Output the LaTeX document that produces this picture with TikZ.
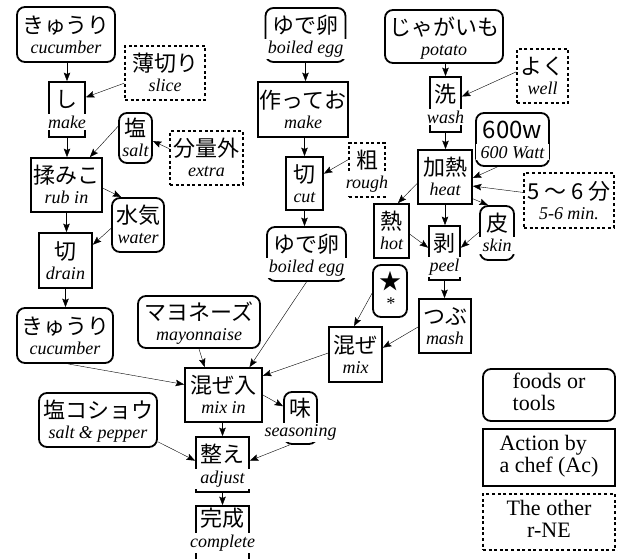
\documentclass[tikz,border=0pt]{standalone}
\usepackage{fontspec}
\setmainfont{Liberation Serif}
\newfontfamily\jpfont{Noto Sans CJK JP}
\usepackage{tikz}
\usetikzlibrary{arrows.meta}
\pgfdeclarelayer{edgelayer}
\pgfdeclarelayer{nodelayer}
\pgfsetlayers{edgelayer,nodelayer,main}
\newcommand{\jsz}{\jpfont\fontsize{22}{20}\selectfont}
\newcommand{\esz}{\itshape\fontsize{18}{20}\selectfont}
% Japanese word over its English gloss
\newcommand{\je}[2]{\fontsize{18}{20}\selectfont\begin{tabular}[b]{@{}c@{}}{\jsz #1}\\{\esz #2}\end{tabular}}
% same, but the gloss sits on a white patch over the frame
\newcommand{\jo}[2]{\fontsize{18}{20}\selectfont\begin{tabular}[b]{@{}c@{}}{\jsz #1}\\{\esz\makebox[0pt]{\setlength{\fboxsep}{2pt}\colorbox{white}{\hspace{3pt}#2\hspace{3pt}}}}\end{tabular}}
\tikzstyle{box}=[inner sep=0pt, line width=1.8pt, text height=37pt, text depth=0pt, fill=white]
\tikzstyle{food}=[box, draw, rounded corners=8pt]
\tikzstyle{act}=[box, draw, rectangle]
\tikzstyle{other}=[box, draw, line width=1.5pt, dash pattern=on 3pt off 2.6pt]
\tikzstyle{key}=[inner sep=0pt, draw, line width=1.8pt, fill=white, font=\fontsize{22}{22}\selectfont]
\tikzset{sz/.style 2 args={minimum width=#1pt, minimum height=#2pt}}

\begin{document}
\begin{tikzpicture}[x=1pt, y=-1pt, line width=1.4pt, >={Stealth[length=8.5pt,width=6.5pt,inset=1.5pt]}]
    \useasboundingbox (0,0) rectangle (627,558);
    \begin{pgfonlayer}{nodelayer}
	% cucumber column
	\node [food, sz={98}{55}] (cu1) at (66,34.5) {\je{きゅうり}{cucumber}};
	\node [other, sz={80}{54}] (slice) at (165,73) {\je{薄切り}{slice}};
	\node [act, sz={36}{55}] (make1) at (67,109.5) {\jo{し}{make}};
	\node [food, sz={33}{50}] (salt) at (135.5,138) {\je{塩}{salt}};
	\node [other, sz={73}{54}] (extra) at (206.5,158) {\je{分量外}{extra}};
	\node [act, sz={71}{54}] (rub) at (66.5,185) {\je{揉みこ}{rub in}};
	\node [food, sz={52}{54}] (water) at (138,225) {\je{水気}{water}};
	\node [act, sz={53}{55}] (drain) at (65.5,260.5) {\je{切}{drain}};
	\node [food, sz={96}{55}] (cu2) at (65,335.5) {\je{きゅうり}{cucumber}};
	% egg column
	\node [food, sz={80}{54}] (egg1) at (305.5,35) {\jo{ゆで卵}{boiled egg}};
	\node [act, sz={90}{55}] (make2) at (303,109.5) {\je{作ってお}{make}};
	\node [act, sz={37}{53}] (cut) at (304.5,183.5) {\je{切}{cut}};
	\node [other, sz={36}{54}] (rough) at (367,170) {\jo{粗}{rough}};
	\node [food, sz={79}{54}] (egg2) at (306.5,254) {\jo{ゆで卵}{boiled egg}};
	% potato column
	\node [food, sz={118}{53}] (potato) at (444,36.5) {\je{じゃがいも}{potato}};
	\node [other, sz={51}{54}] (well) at (542.5,76) {\je{よく}{well}};
	\node [act, sz={31}{55}] (wash) at (445.5,104.5) {\jo{洗}{wash}};
	\node [food, sz={73}{53}] (watt) at (512.5,139.5) {\jo{\fontsize{24}{20}\selectfont 600w}{600 Watt}};
	\node [act, sz={54}{54}] (heat) at (445,177) {\je{加熱}{heat}};
	\node [other, sz={90}{55}] (min) at (569,200.5) {\je{5 ～ 6 分}{5-6 min.}};
	\node [act, sz={35}{54}] (hot) at (391.5,231) {\je{熱}{hot}};
	\node [food, sz={34}{54}] (skin) at (497,233) {\jo{皮}{skin}};
	\node [act, sz={31}{54}] (peel) at (444.5,253) {\jo{剥}{peel}};
	\node [act, sz={52}{54}] (mash) at (445,326) {\je{つぶ}{mash}};
	\node [food, sz={34}{52}] (star) at (390,291) {\je{★}{*}};
	\node [act, sz={53}{55}] (mix) at (355.5,354.5) {\je{混ぜ}{mix}};
	% mixing and finishing
	\node [food, sz={122}{52}] (mayo) at (199,322) {\je{マヨネーズ}{mayonnaise}};
	\node [act, sz={77}{54}] (mixin) at (223.5,395) {\je{混ぜ入}{mix in}};
	\node [food, sz={118}{54}] (pepper) at (98,420) {\je{塩コショウ}{salt \& pepper}};
	\node [food, sz={33}{52}] (season) at (300.5,418) {\jo{味}{seasoning}};
	\node [act, sz={53}{55}] (adjust) at (222.5,464.5) {\jo{整え}{adjust}};
	\node [act, sz={53}{70}, text depth=25pt] (complete) at (222.5,541) {\jo{完成}{complete}};
	% legend
	\node [key, rounded corners=8pt, sz={132}{52}] (key1) at (549,395) {\begin{tabular}{@{}l@{}}foods or\\tools\end{tabular}};
	\node [key, sz={132}{57}] (key2) at (549,457.5) {\begin{tabular}{@{}l@{}}Action by\\a chef (Ac)\end{tabular}};
	\node [key, line width=1.5pt, dash pattern=on 3pt off 2.6pt, sz={132}{56}] (key3) at (549,522) {\begin{tabular}{@{}c@{}}The other\\r-NE\end{tabular}\hspace{16pt}};
    \end{pgfonlayer}
    \begin{pgfonlayer}{edgelayer}
	\draw [->] (make1.north |- cu1.south) to (make1.north);
	\draw [->] (slice.194) to (make1.33);
	\draw [->] (make1.south) to (make1.south |- rub.north);
	\draw [->] (salt.146) to (rub.50);
	\draw [->] (extra.166) to (salt.350);
	\draw [->] (rub.355) to (water.121);
	\draw [->] (rub.south) to (rub.south |- drain.north);
	\draw [->] (water.187) to (drain.30);
	\draw [->] (drain.south) to (drain.south |- cu2.north);
	\draw [->] (cu2.276) to (mixin.165);
	\draw [->] (egg1.south) to (egg1.south |- make2.north);
	\draw [->] (cut.north |- make2.south) to (cut.north);
	\draw [->] (rough.151) to (cut.27);
	\draw [->] (cut.south) to (cut.south |- egg2.north);
	\draw [->] (egg2.south) to (mixin.47);
	\draw [->] (mayo.south) to (mixin.124);
	\draw [->] (wash.north |- potato.south) to (wash.north);
	\draw [->] (well.171) to (wash.26);
	\draw [->] (wash.south) to (wash.south |- heat.north);
	\draw [->] (watt.241) to (heat.358);
	\draw [->] (min.170) to (heat.342);
	\draw [->] (heat.193) to (hot.77);
	\draw [->] (heat.322) to (skin.108);
	\draw [->] (heat.south) to (heat.south |- peel.north);
	\draw [->] (hot.350) to (peel.162);
	\draw [->] (skin.177) to (peel.18);
	\draw [->] (peel.south) to (peel.south |- mash.north);
	\draw [->] (mash.182) to (mix.14);
	\draw [->] (star.187) to (mix.93);
	\draw [->] (mix.177) to (mixin.26);
	\draw [->] (mixin.0) to (season.146);
	\draw [->] (adjust.north |- mixin.south) to (adjust.north);
	\draw [->] (season.248) to (adjust.8);
	\draw [->] (pepper.340) to (adjust.172);
	\draw [->] (adjust.south) to (complete.north);
    \end{pgfonlayer}
\end{tikzpicture}
\end{document}
